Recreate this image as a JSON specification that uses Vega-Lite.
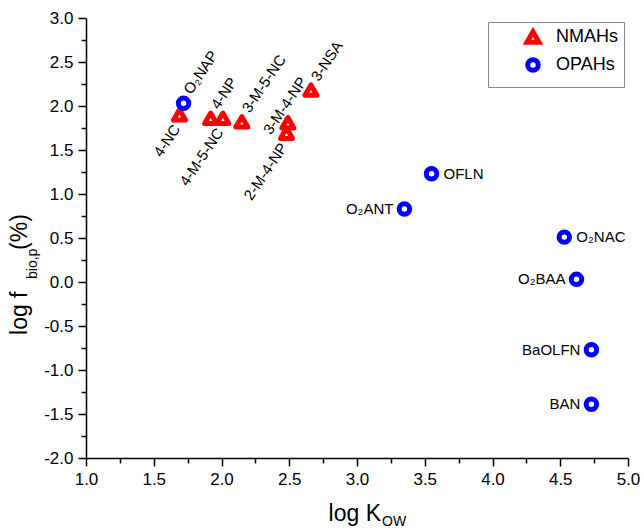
{
  "$schema": "https://vega.github.io/schema/vega-lite/v6.json",
  "width": 542,
  "height": 440,
  "autosize": {"type": "none"},
  "padding": {"left": 86, "top": 18, "right": 16, "bottom": 70},
  "config": {
    "view": {"stroke": null},
    "font": "Liberation Sans",
    "axis": {
      "domainColor": "black", "domainWidth": 1.5,
      "tickColor": "black", "tickWidth": 1.5,
      "labelFontSize": 17, "labelColor": "black", "labelFont": "Liberation Sans",
      "grid": false, "labelFlush": false, "labelOverlap": false, "title": null
    }
  },
  "datasets": {
    "pts": [
      {"label": "4-NC", "x": 1.69, "y": 1.90, "group": "NMAHs", "pos": "dl"},
      {"label": "4-NP", "x": 1.92, "y": 1.86, "group": "NMAHs", "pos": "ur"},
      {"label": "4-M-5-NC", "x": 2.01, "y": 1.86, "group": "NMAHs", "pos": "dl"},
      {"label": "3-M-5-NC", "x": 2.15, "y": 1.82, "group": "NMAHs", "pos": "ur"},
      {"label": "3-M-4-NP", "x": 2.49, "y": 1.81, "group": "NMAHs", "pos": "ul"},
      {"label": "2-M-4-NP", "x": 2.48, "y": 1.69, "group": "NMAHs", "pos": "dl"},
      {"label": "3-NSA", "x": 2.66, "y": 2.18, "group": "NMAHs", "pos": "ur"},
      {"label": "O₂NAP", "x": 1.72, "y": 2.03, "group": "OPAHs", "pos": "ur"},
      {"label": "OFLN", "x": 3.55, "y": 1.23, "group": "OPAHs", "pos": "r"},
      {"label": "O₂ANT", "x": 3.35, "y": 0.83, "group": "OPAHs", "pos": "l"},
      {"label": "O₂NAC", "x": 4.53, "y": 0.51, "group": "OPAHs", "pos": "r"},
      {"label": "O₂BAA", "x": 4.62, "y": 0.03, "group": "OPAHs", "pos": "l"},
      {"label": "BaOLFN", "x": 4.73, "y": -0.77, "group": "OPAHs", "pos": "l"},
      {"label": "BAN", "x": 4.73, "y": -1.39, "group": "OPAHs", "pos": "l"}
    ],
    "titles": [
      {"text": "log K", "x": 3.177, "y": -2.716, "part": "xmain"},
      {"text": "OW", "x": 3.185, "y": -2.77, "part": "xsub"},
      {"text": "log f", "x": 0.513, "y": -0.602, "part": "ymain"},
      {"text": "bio,p", "x": 0.609, "y": 0.034, "part": "ysub"},
      {"text": "(%)", "x": 0.513, "y": 0.364, "part": "ymain"}
    ]
  },
  "encoding": {
    "x": {
      "field": "x", "type": "quantitative",
      "scale": {"domain": [1, 5], "nice": false, "zero": false},
      "axis": {
        "title": null,
        "values": [1, 1.25, 1.5, 1.75, 2, 2.25, 2.5, 2.75, 3, 3.25, 3.5, 3.75, 4, 4.25, 4.5, 4.75, 5],
        "labelExpr": "abs(datum.value*2 - round(datum.value*2)) > 0.01 ? '' : replace(format(datum.value, '.1f'), '−', '-')",
        "tickSize": {"condition": {"test": "abs(datum.value*2 - round(datum.value*2)) > 0.01", "value": 5}, "value": 8},
        "labelPadding": 5
      }
    },
    "y": {
      "field": "y", "type": "quantitative",
      "scale": {"domain": [-2, 3], "nice": false, "zero": false},
      "axis": {
        "title": null,
        "values": [-2, -1.75, -1.5, -1.25, -1, -0.75, -0.5, -0.25, 0, 0.25, 0.5, 0.75, 1, 1.25, 1.5, 1.75, 2, 2.25, 2.5, 2.75, 3],
        "labelExpr": "abs(datum.value*2 - round(datum.value*2)) > 0.01 ? '' : replace(format(datum.value, '.1f'), '−', '-')",
        "tickSize": {"condition": {"test": "abs(datum.value*2 - round(datum.value*2)) > 0.01", "value": 5}, "value": 8},
        "labelPadding": 5
      }
    }
  },
  "layer": [
    {
      "data": {"name": "pts"},
      "mark": {"type": "point", "filled": false, "fill": "white", "strokeWidth": 5, "opacity": 1, "strokeJoin": "round"},
      "encoding": {
        "color": {
          "field": "group", "type": "nominal",
          "scale": {"domain": ["NMAHs", "OPAHs"], "range": ["#ff0000", "#0000ff"]},
          "legend": {
            "title": null, "orient": "top-right", "offset": 4,
            "strokeColor": "#888", "fillColor": "white", "padding": 6,
            "labelFontSize": 18, "labelColor": "black", "labelFont": "Liberation Sans",
            "symbolStrokeWidth": 5, "symbolSize": 140, "symbolFillColor": "white",
            "symbolOffset": 30, "rowPadding": -4, "labelOffset": 14
          }
        },
        "shape": {
          "field": "group", "type": "nominal",
          "scale": {"domain": ["NMAHs", "OPAHs"], "range": ["triangle-up", "circle"]},
          "legend": {
            "title": null, "orient": "top-right", "offset": 4,
            "strokeColor": "#888", "fillColor": "white", "padding": 6,
            "labelFontSize": 18, "labelColor": "black", "labelFont": "Liberation Sans",
            "symbolStrokeWidth": 5, "symbolSize": 140, "symbolFillColor": "white",
            "symbolOffset": 30, "rowPadding": -4, "labelOffset": 14
          }
        },
        "size": {
          "field": "group", "type": "nominal",
          "scale": {"domain": ["NMAHs", "OPAHs"], "range": [144, 110]},
          "legend": null
        }
      }
    },
    {
      "data": {"name": "pts"},
      "transform": [{"filter": "datum.pos == 'ur'"}],
      "mark": {"type": "text", "angle": 304, "align": "left", "baseline": "middle", "dx": 11, "dy": -3, "fontSize": 15, "color": "black"},
      "encoding": {"text": {"field": "label"}}
    },
    {
      "data": {"name": "pts"},
      "transform": [{"filter": "datum.pos == 'dl'"}],
      "mark": {"type": "text", "angle": 304, "align": "right", "baseline": "middle", "dx": -11, "dy": 4, "fontSize": 15, "color": "black"},
      "encoding": {"text": {"field": "label"}}
    },
    {
      "data": {"name": "pts"},
      "transform": [{"filter": "datum.pos == 'ul'"}],
      "mark": {"type": "text", "angle": 304, "align": "left", "baseline": "middle", "dx": -20, "dy": -12, "fontSize": 15, "color": "black"},
      "encoding": {"text": {"field": "label"}}
    },
    {
      "data": {"name": "pts"},
      "transform": [{"filter": "datum.pos == 'r'"}],
      "mark": {"type": "text", "align": "left", "baseline": "middle", "dx": 12, "fontSize": 15, "color": "black"},
      "encoding": {"text": {"field": "label"}}
    },
    {
      "data": {"name": "pts"},
      "transform": [{"filter": "datum.pos == 'l'"}],
      "mark": {"type": "text", "align": "right", "baseline": "middle", "dx": -11, "fontSize": 15, "color": "black"},
      "encoding": {"text": {"field": "label"}}
    },
    {
      "data": {"name": "titles"},
      "transform": [{"filter": "datum.part == 'xmain'"}],
      "mark": {"type": "text", "align": "right", "baseline": "alphabetic", "fontSize": 23, "color": "black", "clip": false},
      "encoding": {"text": {"field": "text"}}
    },
    {
      "data": {"name": "titles"},
      "transform": [{"filter": "datum.part == 'xsub'"}],
      "mark": {"type": "text", "align": "left", "baseline": "alphabetic", "fontSize": 14, "color": "black", "clip": false},
      "encoding": {"text": {"field": "text"}}
    },
    {
      "data": {"name": "titles"},
      "transform": [{"filter": "datum.part == 'ymain'"}],
      "mark": {"type": "text", "angle": 270, "align": "left", "baseline": "middle", "fontSize": 23, "color": "black", "clip": false},
      "encoding": {"text": {"field": "text"}}
    },
    {
      "data": {"name": "titles"},
      "transform": [{"filter": "datum.part == 'ysub'"}],
      "mark": {"type": "text", "angle": 270, "align": "left", "baseline": "middle", "fontSize": 14, "color": "black", "clip": false},
      "encoding": {"text": {"field": "text"}}
    }
  ]
}
